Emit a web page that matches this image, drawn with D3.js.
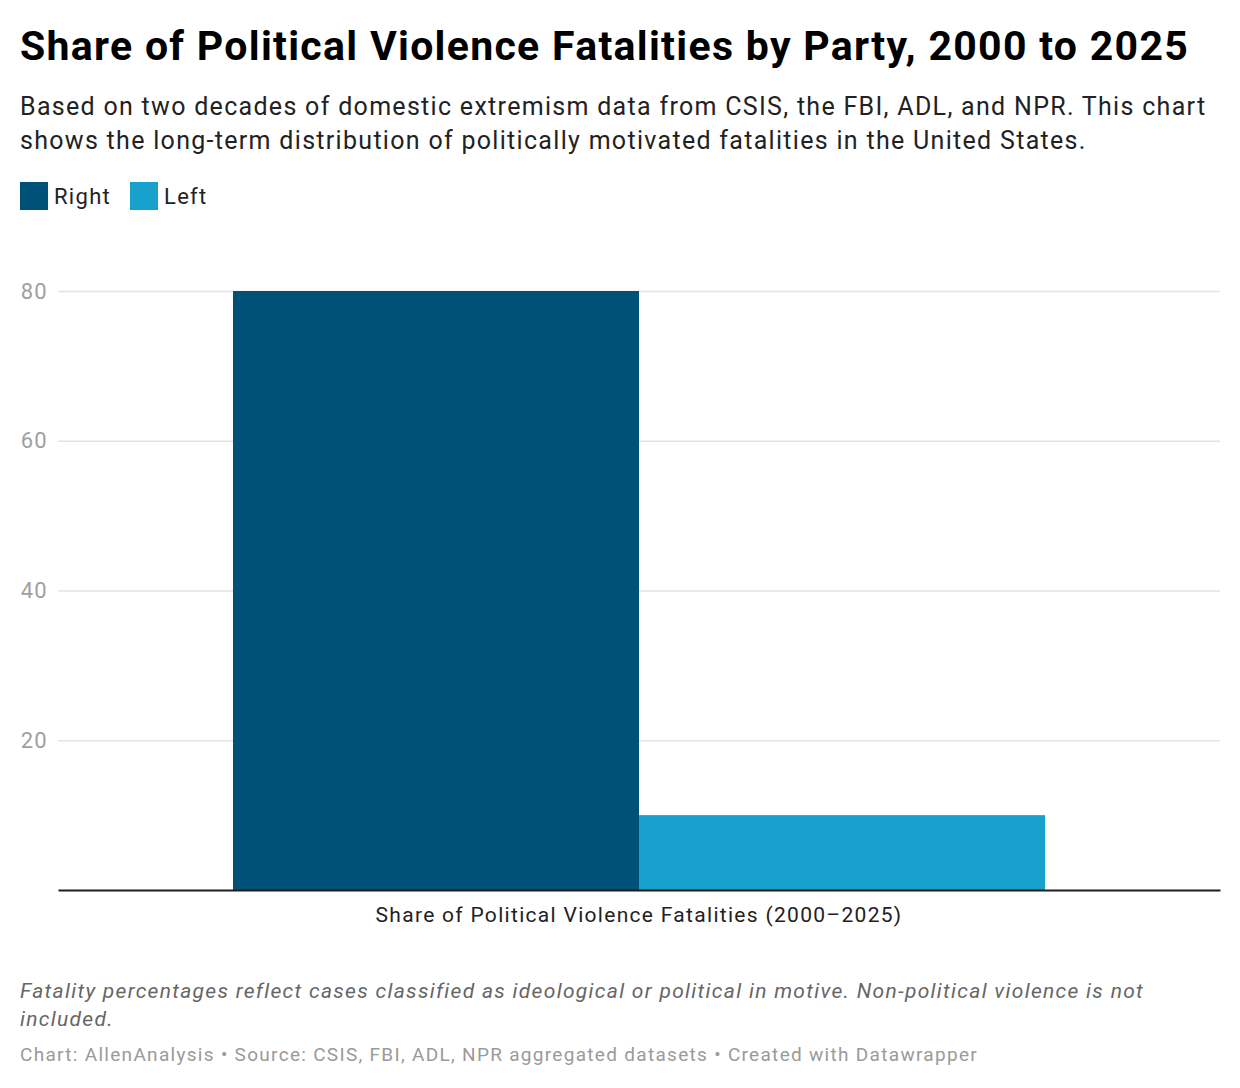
<!DOCTYPE html>
<html>
<head>
<meta charset="utf-8">
<script src="https://cdn.jsdelivr.net/npm/d3@7"></script>
<style>
  body { margin: 0; background: #fff; font-family: Roboto, "Noto Sans", sans-serif; }
  #chart { width: 1240px; height: 1088px; }
  text { letter-spacing: 1.3px; }
</style>
</head>
<body>
<div id="chart"></div>
<script>
const categories = ['Share of Political Violence Fatalities (2000–2025)'];
const seriesNames = ['Right', 'Left'];
const rightValues = [80];
const leftValues = [10];
const yTicks = [20, 40, 60, 80];

const width = 1240, height = 1088;
const margin = {top: 291, right: 20, bottom: 198, left: 58};
const innerW = width - margin.left - margin.right;
const innerH = height - margin.top - margin.bottom;

const color = d3.scaleOrdinal().domain(seriesNames).range(['#005178', '#18a1cd']);

const svg = d3.select('#chart').append('svg')
  .attr('width', width).attr('height', height);

// header
svg.append('text').attr('x', 20).attr('y', 60)
  .attr('font-size', 41).attr('font-weight', 700).attr('fill', '#000')
  .text('Share of Political Violence Fatalities by Party, 2000 to 2025');

const sub = svg.append('text').attr('font-size', 25).attr('fill', '#222');
sub.append('tspan').attr('x', 20).attr('y', 115)
  .text('Based on two decades of domestic extremism data from CSIS, the FBI, ADL, and NPR. This chart');
sub.append('tspan').attr('x', 20).attr('y', 149)
  .text('shows the long-term distribution of politically motivated fatalities in the United States.');

// legend
const legendX = [20, 130];
const lg = svg.append('g').selectAll('g').data(seriesNames).join('g')
  .attr('transform', (d, i) => `translate(${legendX[i]},182)`);
lg.append('rect').attr('width', 28).attr('height', 28).attr('fill', d => color(d));
lg.append('text').attr('x', 34).attr('y', 22).attr('font-size', 22).attr('fill', '#222').text(d => d);

const plot = svg.append('g').attr('transform', `translate(${margin.left},${margin.top})`);

const y = d3.scaleLinear().domain([0, 80]).range([innerH, 0]);
const x0 = d3.scaleBand().domain(categories).range([0, innerW]).paddingInner(0).paddingOuter(0.2155);
const x1 = d3.scaleBand().domain(seriesNames).range([0, x0.bandwidth()]).padding(0);

// gridlines + tick labels
const yAxis = plot.append('g').call(d3.axisLeft(y).tickValues(yTicks).tickSize(-innerW).tickPadding(10));
yAxis.select('.domain').remove();
yAxis.selectAll('.tick line').attr('stroke', '#e3e3e3').attr('stroke-width', 1.5);
yAxis.selectAll('.tick text').attr('x', -10).attr('font-size', 22).attr('fill', '#a0a0a0')
  .attr('font-family', 'Roboto, sans-serif');

const rows = categories.map((c, i) => ({cat: c, values: [
  {key: 'Right', value: rightValues[i]},
  {key: 'Left', value: leftValues[i]}
]}));

plot.selectAll('.grp').data(rows).join('g').attr('class', 'grp')
  .attr('transform', d => `translate(${x0(d.cat)},0)`)
  .selectAll('rect').data(d => d.values).join('rect')
  .attr('x', d => x1(d.key))
  .attr('width', x1.bandwidth())
  .attr('y', d => y(d.value))
  .attr('height', d => innerH - y(d.value))
  .attr('fill', d => color(d.key));

// baseline + category axis
const xAxis = plot.append('g').attr('transform', `translate(0,${innerH})`)
  .call(d3.axisBottom(x0).tickSize(0).tickPadding(17));
xAxis.select('.domain').attr('stroke', '#1d1d1d').attr('stroke-width', 2);
xAxis.selectAll('.tick text').attr('font-size', 21).attr('fill', '#222')
  .attr('font-family', 'Roboto, sans-serif');

// notes
const note = svg.append('text').attr('font-size', 21).attr('font-style', 'italic').attr('fill', '#666');
note.append('tspan').attr('x', 20).attr('y', 998)
  .text('Fatality percentages reflect cases classified as ideological or political in motive. Non-political violence is not');
note.append('tspan').attr('x', 20).attr('y', 1026).text('included.');

svg.append('text').attr('x', 20).attr('y', 1061).attr('font-size', 19).attr('fill', '#9a9a9a')
  .text('Chart: AllenAnalysis • Source: CSIS, FBI, ADL, NPR aggregated datasets • Created with Datawrapper');
</script>
</body>
</html>
